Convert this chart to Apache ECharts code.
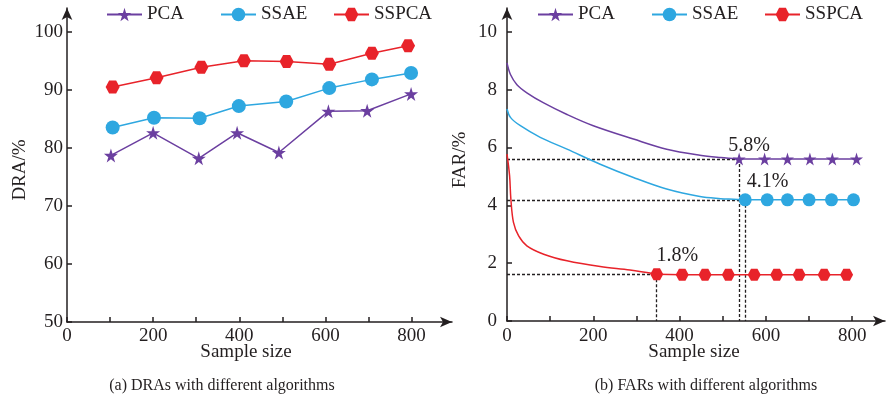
<!DOCTYPE html>
<html>
<head>
<meta charset="utf-8">
<script src="https://cdn.jsdelivr.net/npm/echarts@6/dist/echarts.min.js"></script>
<style>
  html, body { margin: 0; padding: 0; background: #fff; }
  #chart { width: 887px; height: 406px; }
</style>
</head>
<body>
<div id="chart"></div>
<script>
// (a) DRA vs sample size
const pcaX = [102, 200, 306, 395, 492, 607, 697, 799];
const pcaDra = [78.7, 82.6, 78.2, 82.6, 79.2, 86.3, 86.4, 89.3];
const ssaeX = [106, 202, 308, 399, 509, 609, 708, 799];
const ssaeDra = [83.5, 85.2, 85.1, 87.2, 88.0, 90.3, 91.8, 92.9];
const sspcaX = [106, 208, 312, 411, 510, 609, 708, 792];
const sspcaDra = [90.5, 92.1, 93.9, 95.0, 94.9, 94.4, 96.3, 97.6];

// (b) FAR vs sample size: curves
const pcaCurveX = [0, 8, 23, 46, 85, 139, 200, 293, 370, 447, 495, 538];
const pcaCurveY = [8.92, 8.52, 8.17, 7.89, 7.54, 7.14, 6.75, 6.29, 5.94, 5.73, 5.65, 5.6];
const ssaeCurveX = [0, 8, 31, 77, 139, 216, 293, 370, 447, 495, 525, 552];
const ssaeCurveY = [7.33, 7.04, 6.75, 6.35, 5.94, 5.42, 4.96, 4.56, 4.3, 4.23, 4.21, 4.19];
const sspcaCurveX = [0, 6, 9, 15, 27, 46, 85, 139, 216, 285, 347];
const sspcaCurveY = [5.77, 5.02, 4.21, 3.41, 2.94, 2.6, 2.31, 2.08, 1.88, 1.76, 1.62];

// (b) marker points after convergence
const pcaMarkX = [538, 597, 650, 702, 754, 810];
const pcaMarkY = [5.6, 5.6, 5.6, 5.6, 5.6, 5.6];
const ssaeMarkX = [552, 603, 650, 700, 752, 803];
const ssaeMarkY = [4.19, 4.19, 4.19, 4.19, 4.19, 4.19];
const sspcaMarkX = [347, 406, 459, 513, 573, 625, 677, 735, 787];
const sspcaMarkY = [1.62, 1.6, 1.6, 1.6, 1.6, 1.6, 1.6, 1.6, 1.6];

// annotation texts
const annoText = ['5.8%', '4.1%', '1.8%'];
const annoX = [561, 604, 395];
const annoY = [6.05, 4.8, 2.26];

const names = ['PCA', 'SSAE', 'SSPCA'];

const zip = (xs, ys) => xs.map((x, i) => [x, ys[i]]);

const FONT = '"Liberation Serif", "Times New Roman", serif';
const INK = '#231f20';
const colors = { PCA: '#6b3fa0', SSAE: '#2ea7e0', SSPCA: '#e8232a' };
const STAR = 'path://M50,0 L61,35 L98,35 L68,57 L79,91 L50,70 L21,91 L32,57 L2,35 L39,35 Z';
const HEX = 'path://M0,43 L25,0 L75,0 L100,43 L75,86 L25,86 Z';
const symbols = {
  PCA: { symbol: STAR, symbolSize: 14 },
  SSAE: { symbol: 'circle', symbolSize: 14 },
  SSPCA: { symbol: HEX, symbolSize: [14, 13] },
};

const chart = echarts.init(document.getElementById('chart'));

function axisBase() {
  return {
    axisLine: { show: true, symbol: ['none', 'arrow'], symbolSize: [8, 12], lineStyle: { color: INK, width: 1.5 } },
    axisTick: { show: true, inside: true, length: 5, lineStyle: { color: INK, width: 1.5 } },
    splitLine: { show: false },
  };
}

function lineSeries(name, data, xi, extra) {
  return Object.assign({
    name: name,
    type: 'line',
    xAxisIndex: xi,
    yAxisIndex: xi,
    data: data,
    symbol: symbols[name].symbol,
    symbolSize: symbols[name].symbolSize,
    lineStyle: { color: colors[name], width: 1.5 },
    itemStyle: { color: colors[name] },
    emphasis: { disabled: true },
    z: 3,
  }, extra || {});
}

function curveSeries(name, data) {
  return {
    name: name + ' curve',
    type: 'line',
    xAxisIndex: 1,
    yAxisIndex: 1,
    data: data,
    showSymbol: false,
    smooth: 0.35,
    lineStyle: { color: colors[name], width: 1.5 },
    emphasis: { disabled: true },
    z: 3,
  };
}

function guideLines(x, y) {
  return {
    silent: true,
    symbol: ['none', 'none'],
    label: { show: false },
    lineStyle: { color: INK, type: [3, 2], width: 1.3 },
    emphasis: { disabled: true },
    z: 2,
    data: [
      [{ coord: [0, y] }, { coord: [x, y] }],
      [{ coord: [x, y] }, { coord: [x, 0] }],
    ],
  };
}

function annotation(i) {
  return {
    symbol: 'circle',
    symbolSize: 0,
    silent: true,
    label: {
      show: true, position: 'inside', formatter: annoText[i],
      fontFamily: FONT, fontSize: 20, color: INK,
    },
    data: [{ coord: [annoX[i], annoY[i]] }],
  };
}

const legendLeft = [106, 220, 333, 537, 651, 764];
const legends = legendLeft.map((left, i) => ({
  data: [names[i % 3]],
  left: left,
  top: 5,
  padding: 0,
  itemWidth: 35,
  itemHeight: 17,
  selectedMode: false,
  textStyle: { fontFamily: FONT, fontSize: 19, color: INK },
}));

const labelStyle = { fontFamily: FONT, fontSize: 19, color: INK };

const option = {
  animation: false,
  backgroundColor: '#fff',
  legend: legends,
  grid: [
    { left: 67, top: 8, width: 385, height: 314, outerBoundsMode: 'none' },
    { left: 507, top: 8, width: 378, height: 313, outerBoundsMode: 'none' },
  ],
  xAxis: [
    Object.assign(axisBase(), {
      type: 'value', gridIndex: 0, min: 0, max: 894, interval: 100,
      axisLabel: Object.assign({ margin: 5, showMaxLabel: false,
        formatter: v => (v % 200 === 0 ? String(v) : '') }, labelStyle),
    }),
    Object.assign(axisBase(), {
      type: 'value', gridIndex: 1, min: 0, max: 876, interval: 100,
      axisLabel: Object.assign({ margin: 6, showMaxLabel: false,
        formatter: v => (v % 200 === 0 ? String(v) : '') }, labelStyle),
    }),
  ],
  yAxis: [
    Object.assign(axisBase(), {
      type: 'value', gridIndex: 0, min: 50, max: 104.1, interval: 10,
      axisLabel: Object.assign({ margin: 4, showMaxLabel: false,
        formatter: v => (v % 10 === 0 ? String(v) : '') }, labelStyle),
    }),
    Object.assign(axisBase(), {
      type: 'value', gridIndex: 1, min: 0, max: 10.82, interval: 2,
      axisLabel: Object.assign({ margin: 10, showMaxLabel: false,
        formatter: v => (v % 2 === 0 ? String(v) : '') }, labelStyle),
    }),
  ],
  graphic: [
    { type: 'text', x: 20, y: 170, rotation: Math.PI / 2,
      style: { text: 'DRA/%', font: '19px ' + FONT, fill: INK, align: 'center', verticalAlign: 'middle' } },
    { type: 'text', x: 460, y: 160, rotation: Math.PI / 2,
      style: { text: 'FAR/%', font: '19px ' + FONT, fill: INK, align: 'center', verticalAlign: 'middle' } },
    { type: 'text', x: 246, y: 352,
      style: { text: 'Sample size', font: '19px ' + FONT, fill: INK, align: 'center', verticalAlign: 'middle' } },
    { type: 'text', x: 694, y: 352,
      style: { text: 'Sample size', font: '19px ' + FONT, fill: INK, align: 'center', verticalAlign: 'middle' } },
    { type: 'text', x: 222, y: 386,
      style: { text: '(a) DRAs with different algorithms', font: '16px ' + FONT, fill: INK, align: 'center', verticalAlign: 'middle' } },
    { type: 'text', x: 706, y: 386,
      style: { text: '(b) FARs with different algorithms', font: '16px ' + FONT, fill: INK, align: 'center', verticalAlign: 'middle' } },
  ],
  series: [
    lineSeries('PCA', zip(pcaX, pcaDra), 0),
    lineSeries('SSAE', zip(ssaeX, ssaeDra), 0),
    lineSeries('SSPCA', zip(sspcaX, sspcaDra), 0),

    curveSeries('PCA', zip(pcaCurveX, pcaCurveY)),
    curveSeries('SSAE', zip(ssaeCurveX, ssaeCurveY)),
    curveSeries('SSPCA', zip(sspcaCurveX, sspcaCurveY)),

    lineSeries('PCA', zip(pcaMarkX, pcaMarkY), 1, {
      symbolSize: 13,
      markLine: guideLines(pcaMarkX[0], pcaMarkY[0]),
      markPoint: annotation(0),
    }),
    lineSeries('SSAE', zip(ssaeMarkX, ssaeMarkY), 1, {
      symbolSize: 13,
      markLine: guideLines(ssaeMarkX[0], ssaeMarkY[0]),
      markPoint: annotation(1),
    }),
    lineSeries('SSPCA', zip(sspcaMarkX, sspcaMarkY), 1, {
      symbolSize: [13, 12],
      markLine: guideLines(sspcaMarkX[0], sspcaMarkY[0]),
      markPoint: annotation(2),
    }),
  ],
};

chart.setOption(option);
</script>
</body>
</html>
